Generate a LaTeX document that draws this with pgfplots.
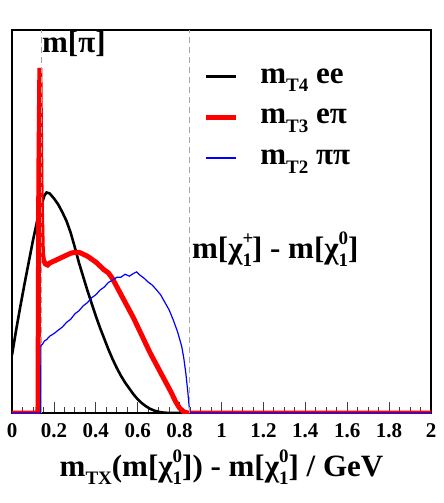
\documentclass[border=0pt]{standalone}
\usepackage{fontspec}
\setmainfont{Liberation Serif}
\usepackage{pgfplots}
\pgfplotsset{compat=1.18}
\usetikzlibrary{calc}

% text helpers: big bold labels, sub- and superscripts
\newcommand\lbl{\fontsize{31}{33}\selectfont\bfseries}
\newcommand\sbs[1]{\raisebox{-0.28em}{\fontsize{19}{19}\selectfont\bfseries #1}}
\newcommand\sps[1]{\raisebox{0.45em}{\fontsize{19}{19}\selectfont\bfseries #1}}
\newcommand\chix[2]{χ\rlap{\sps{#1}}\sbs{#2}}

\begin{document}
\begin{tikzpicture}
\begin{axis}[
  scale only axis, width=419pt, height=383pt,
  xmin=0, xmax=2, ymin=0, ymax=19.54,
  axis line style={line width=1.2pt},
  xtick={0,0.2,...,2.01}, minor x tick num=3,
  ytick=\empty, minor ytick={1,...,19},
  xtick pos=bottom, ytick pos=left,
  tick align=inside,
  major tick length=11pt, minor tick length=6pt,
  tick style={line width=0.8pt, color=black!75},
  ticklabel style={font=\fontsize{21}{21}\selectfont\bfseries},
  /pgf/number format/assume math mode=true,
  /pgf/number format/fixed,
  xticklabel style={yshift=-7pt},
  xlabel={\lbl m\sbs{TX}(m[\chix{0}{1}]) - m[\chix{0}{1}] / GeV},
  xlabel style={yshift=-5pt},
  legend style={draw=none, fill=none, at={(0.449,0.910)}, anchor=north west,
    font=\lbl, row sep=20.5pt},
  legend cell align=left,
  legend image code/.code={\draw[#1] (0pt,0pt) -- (30pt,0pt); \path (50pt,0pt);},
]
% m_T4, ee
\addplot[black, line width=2.6pt] coordinates {
 (0,2.96) (0.02,4.25) (0.04,5.45) (0.06,6.6) (0.08,7.7) (0.10,8.8) (0.12,9.8)
 (0.14,10.6) (0.155,11.1) (0.165,11.25) (0.18,11.2) (0.20,10.95) (0.22,10.65)
 (0.24,10.25) (0.26,9.8) (0.28,9.2) (0.30,8.45) (0.32,7.65) (0.34,6.95)
 (0.36,6.25) (0.38,5.6) (0.40,4.95) (0.42,4.35) (0.44,3.8) (0.46,3.25)
 (0.48,2.75) (0.50,2.3) (0.52,1.9) (0.54,1.55) (0.56,1.25) (0.58,0.95)
 (0.60,0.7) (0.62,0.5) (0.64,0.34) (0.66,0.21) (0.68,0.12) (0.70,0.06)
 (0.72,0.025) (0.75,0) (2,0)};
\addlegendentry{m\sbs{T4} ee}
% m_T3, e pi
\addplot[red, line width=5pt] coordinates {
 (0,0) (0.124,0) (0.128,12) (0.133,17.6) (0.139,11) (0.145,8.2) (0.15,7.8)
 (0.16,7.6) (0.17,7.55) (0.18,7.65) (0.19,7.7) (0.20,7.75) (0.22,7.85)
 (0.24,7.95) (0.26,8.05) (0.28,8.15) (0.30,8.2) (0.32,8.2) (0.34,8.1)
 (0.36,8.0) (0.38,7.85) (0.40,7.7) (0.42,7.5) (0.44,7.3) (0.46,7.15)
 (0.48,6.85) (0.50,6.45) (0.52,6.05) (0.54,5.65) (0.56,5.25) (0.58,4.85)
 (0.60,4.4) (0.62,3.95) (0.64,3.5) (0.66,3.05) (0.68,2.65) (0.70,2.25)
 (0.72,1.85) (0.74,1.45) (0.76,1.05) (0.78,0.6) (0.80,0.25) (0.82,0.06)
 (0.84,0) (2,0)};
\addlegendentry{m\sbs{T3} eπ}
% m_T2, pi pi
\addplot[blue, line width=1.2pt] coordinates {
 (0,0) (0.137,0) (0.138,3.45) (0.145,3.5) (0.155,3.68) (0.165,3.74) (0.18,3.92)
 (0.20,4.05) (0.22,4.22) (0.24,4.38) (0.26,4.62) (0.28,4.78) (0.30,5.06)
 (0.32,5.22) (0.34,5.47) (0.36,5.63) (0.38,5.88) (0.40,6.03) (0.42,6.27)
 (0.44,6.42) (0.46,6.66) (0.48,6.78) (0.50,6.92) (0.52,6.93) (0.54,7.08)
 (0.56,6.98) (0.58,7.12) (0.595,7.2) (0.61,7.04) (0.63,6.88) (0.65,6.68)
 (0.67,6.52) (0.69,6.28) (0.71,6.02) (0.73,5.64) (0.75,5.26) (0.77,4.74)
 (0.79,4.15) (0.81,3.4) (0.82,2.8) (0.83,2.0) (0.84,1.0) (0.845,0.4)
 (0.85,0) (2,0)};
\addlegendentry{m\sbs{T2} ππ}
% reference masses
\addplot[gray!70, line width=1.3pt, dash pattern=on 6pt off 4pt, forget plot]
  coordinates {(0.1396,0) (0.1396,19.54)};
\addplot[gray!70, line width=1.3pt, dash pattern=on 6pt off 4pt, forget plot]
  coordinates {(0.847,0) (0.847,19.54)};
\node[anchor=base west, inner sep=0pt, font=\lbl] at (axis cs:0.143,18.4) {m[π]};
\node[anchor=base west, inner sep=0pt, font=\lbl] at (axis cs:0.859,7.9)
  {m[\chix{+}{1}] - m[\chix{0}{1}]};
\end{axis}
\useasboundingbox ($(current axis.south west)+(-12pt,-90pt)$)
  rectangle ($(current axis.north east)+(13pt,30pt)$);
\end{tikzpicture}
\end{document}
